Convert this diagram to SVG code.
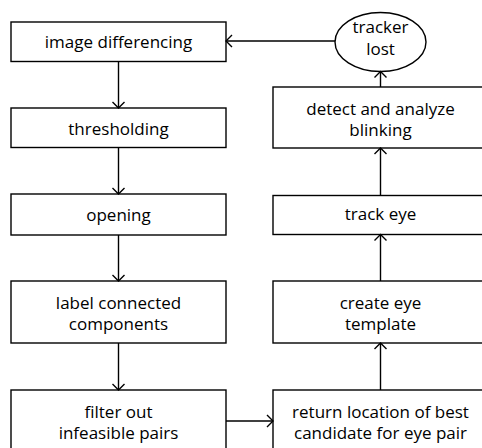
<svg xmlns="http://www.w3.org/2000/svg" width="482" height="448" viewBox="0 0 482 448">
  <style>
    .box { fill: #fff; stroke: #000; stroke-width: 1.4; }
    .lbl { font-family: "Open Sans", "Noto Sans", sans-serif; font-size: 17px; fill: #000; text-anchor: middle; }
    .conn { fill: none; stroke: #000; stroke-width: 1.4; marker-end: url(#arrow); }
  </style>
  <defs>
    <!-- open chevron arrowhead -->
    <marker id="arrow" markerUnits="userSpaceOnUse" markerWidth="12" markerHeight="14" refX="7" refY="7" orient="auto">
      <path d="M1,1 L7,7 L1,13" fill="none" stroke="#000" stroke-width="1.4"/>
    </marker>
  </defs>
  <rect width="482" height="448" fill="#fff"/>

  <!-- left column: detection pipeline -->
  <g id="image-differencing">
    <rect class="box" x="11" y="22" width="215" height="39.5"/>
    <text class="lbl" x="118.5" y="48">image differencing</text>
  </g>
  <g id="thresholding">
    <rect class="box" x="11" y="108" width="215" height="39.5"/>
    <text class="lbl" x="118.5" y="134.5">thresholding</text>
  </g>
  <g id="opening">
    <rect class="box" x="11" y="194" width="215" height="41"/>
    <text class="lbl" x="118.5" y="220.5">opening</text>
  </g>
  <g id="label-connected-components">
    <rect class="box" x="11" y="281" width="215" height="62"/>
    <text class="lbl" x="118.5" y="308.5">label connected</text>
    <text class="lbl" x="118.5" y="329.5">components</text>
  </g>
  <g id="filter-infeasible-pairs">
    <rect class="box" x="11" y="390" width="215" height="62"/>
    <text class="lbl" x="118.5" y="417.5">filter out</text>
    <text class="lbl" x="118.5" y="438.5">infeasible pairs</text>
  </g>

  <!-- right column: tracking pipeline -->
  <g id="tracker-lost">
    <ellipse class="box" cx="380.5" cy="42" rx="45.5" ry="29.5"/>
    <text class="lbl" x="380.5" y="33">tracker</text>
    <text class="lbl" x="380.5" y="54.5">lost</text>
  </g>
  <g id="detect-blinking">
    <rect class="box" x="273" y="87" width="215" height="61"/>
    <text class="lbl" x="380.5" y="114.5">detect and analyze</text>
    <text class="lbl" x="380.5" y="135.5">blinking</text>
  </g>
  <g id="track-eye">
    <rect class="box" x="273" y="195.5" width="215" height="39"/>
    <text class="lbl" x="380.5" y="220">track eye</text>
  </g>
  <g id="create-eye-template">
    <rect class="box" x="273" y="281" width="215" height="62"/>
    <text class="lbl" x="380.5" y="308.5">create eye</text>
    <text class="lbl" x="380.5" y="329.5">template</text>
  </g>
  <g id="return-best-candidate">
    <rect class="box" x="273" y="390" width="215" height="62"/>
    <text class="lbl" x="380.5" y="417.5">return location of best</text>
    <text class="lbl" x="380.5" y="438.5">candidate for eye pair</text>
  </g>

  <g id="connectors">
    <line class="conn" x1="118.5" y1="61.5" x2="118.5" y2="108"/>
    <line class="conn" x1="118.5" y1="147.5" x2="118.5" y2="194"/>
    <line class="conn" x1="118.5" y1="235" x2="118.5" y2="281"/>
    <line class="conn" x1="118.5" y1="343" x2="118.5" y2="390"/>
    <line class="conn" x1="226" y1="421" x2="273" y2="421"/>
    <line class="conn" x1="380.5" y1="390" x2="380.5" y2="343"/>
    <line class="conn" x1="380.5" y1="281" x2="380.5" y2="234.5"/>
    <line class="conn" x1="380.5" y1="195.5" x2="380.5" y2="148"/>
    <line class="conn" x1="380.5" y1="87" x2="380.5" y2="71.5"/>
    <line class="conn" x1="335" y1="41" x2="226" y2="41"/>
  </g>
</svg>
